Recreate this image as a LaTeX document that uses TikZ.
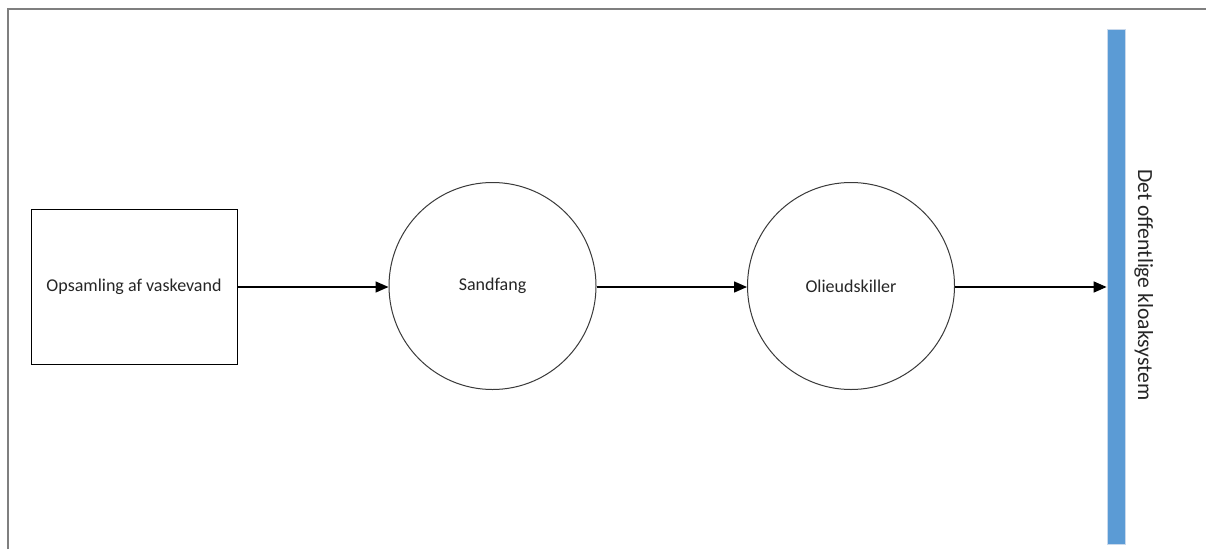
\documentclass[tikz,border=0pt]{standalone}
\usepackage{fontspec}
\setmainfont{Carlito}
\usetikzlibrary{arrows.meta}
\definecolor{frame}{HTML}{7F7F7F}
\definecolor{barblue}{HTML}{5B9BD5}
\definecolor{barline}{HTML}{C9D9EC}
\definecolor{txt}{HTML}{262626}
\definecolor{shapeline}{HTML}{3A3A3A}
\tikzset{
  px/.style={x=1pt,y=-1pt},
  procbox/.style={draw=black, line width=1pt, minimum width=206pt, minimum height=155pt, inner sep=0pt, text=txt, font=\fontsize{18}{20}\selectfont},
  proccircle/.style={circle, draw=shapeline, line width=1pt, minimum size=207pt, inner sep=0pt, text=txt, font=\fontsize{18}{20}\selectfont},
  flow/.style={line width=1.5pt, -{Triangle[length=13pt,width=11pt]}},
  sewerbar/.style={fill=barblue, draw=barline, line width=0.8pt, minimum width=18pt, minimum height=515pt, inner sep=0pt},
}
\begin{document}
\begin{tikzpicture}[px]
\useasboundingbox (0,0) rectangle (1206,549);
\fill[white] (0,0) rectangle (1206,549);
% frame
\draw[frame, line width=2pt] (7.5,549) -- (7.5,8.5) -- (1206,8.5);
% nodes
\node[procbox] (opsamling) at (134,286.5) {Opsamling af vaskevand};
\node[proccircle] (sandfang) at (492.5,286) {Sandfang};
\node[proccircle] (olie) at (851,286) {Olieudskiller};
\node[sewerbar] (bar) at (1116,286.5) {};
\node[rotate=-90, anchor=base, text=txt, font=\fontsize{21.6}{24}\selectfont, inner sep=0pt] (kloak) at (1138,285) {Det offentlige kloaksystem};
% connectors
\coordinate (barin) at (bar.west |- 0,287);
\draw[flow] (opsamling.east |- 0,287) -- (sandfang.west |- 0,287);
\draw[flow] (sandfang.east |- 0,287) -- (olie.west |- 0,287);
\draw[flow] (olie.east |- 0,287) -- (barin);
\end{tikzpicture}
\end{document}
